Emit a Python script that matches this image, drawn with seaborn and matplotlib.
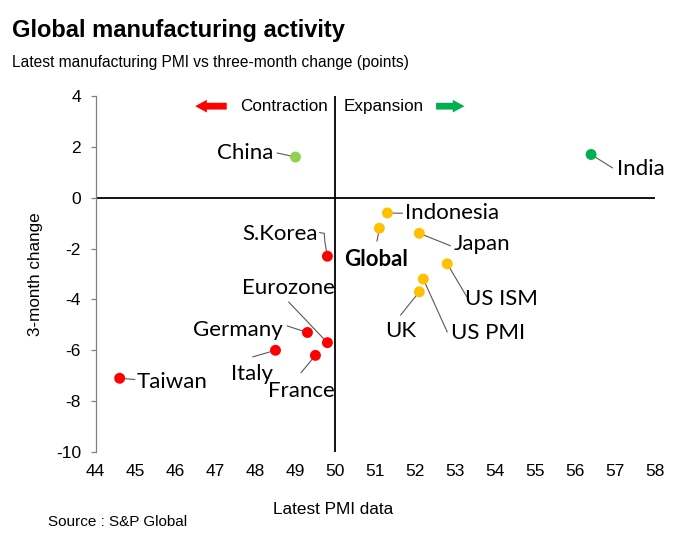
import matplotlib
matplotlib.use("Agg")
import matplotlib.pyplot as plt
import seaborn as sns
import pandas as pd

# ---- data ----
countries = ["China", "India", "Indonesia", "Global", "Japan", "US ISM", "US PMI", "UK",
             "S.Korea", "Eurozone", "Germany", "Italy", "France", "Taiwan"]
pmi = [49.0, 56.4, 51.3, 51.1, 52.1, 52.8, 52.2, 52.1, 49.8, 49.8, 49.3, 48.5, 49.5, 44.6]
change = [1.6, 1.7, -0.6, -1.2, -1.4, -2.6, -3.2, -3.7, -2.3, -5.7, -5.3, -6.0, -6.2, -7.1]
group = ["china", "india", "exp", "exp", "exp", "exp", "exp", "exp",
         "con", "con", "con", "con", "con", "con"]
x_ticks = list(range(44, 59))
y_ticks = list(range(-10, 5, 2))

palette = {"china": "#92D050", "india": "#00B050", "exp": "#FFC000", "con": "#FF0000"}

# label layout: text centre, leader-line path start (data coords)
label_layout = {
    "China":     ((47.74, 1.76), [(48.54, 1.76)]),
    "India":     ((57.64, 1.13), [(56.94, 1.17)]),
    "Indonesia": ((52.93, -0.61), [(51.68, -0.61)]),
    "Global":    ((51.03, -2.43), [(51.04, -1.71)]),
    "Japan":     ((53.68, -1.83), [(52.88, -1.89)]),
    "US ISM":    ((54.16, -3.97), [(53.34, -4.03)]),
    "US PMI":    ((53.81, -5.33), [(52.80, -5.28)]),
    "UK":        ((51.63, -5.25), [(51.63, -4.62)]),
    "S.Korea":   ((48.62, -1.43), [(49.60, -1.37), (49.72, -1.40), (49.74, -1.78)]),
    "Eurozone":  ((48.83, -3.57), [(48.83, -4.10)]),
    "Germany":   ((47.57, -5.19), [(48.79, -5.04)]),
    "Italy":     ((47.91, -6.94), [(47.93, -6.26)]),
    "France":    ((49.14, -7.60), [(49.14, -6.88)]),
    "Taiwan":    ((45.90, -7.25), [(44.98, -7.15)]),
}

df = pd.DataFrame({"country": countries, "pmi": pmi, "change": change, "group": group})

sns.set_style("white")
plt.rcParams["font.family"] = ["Liberation Sans", "DejaVu Sans"]
plt.rcParams["axes.unicode_minus"] = False
plt.rcParams["text.color"] = "black"
plt.rcParams["axes.labelcolor"] = "black"
plt.rcParams["xtick.color"] = "black"
plt.rcParams["ytick.color"] = "black"

fig = plt.figure(figsize=(6.8, 5.4), dpi=100)
ax = fig.add_axes([95.7 / 680, 1 - 452 / 540, (655 - 95.7) / 680, (452 - 96) / 540])

sns.scatterplot(data=df, x="pmi", y="change", hue="group", palette=palette,
                s=62, edgecolor="none", linewidth=0, legend=False, ax=ax, zorder=4)

ax.set_xlim(44, 58)
ax.set_ylim(-10, 4)
ax.set_xticks(x_ticks)
ax.set_yticks(y_ticks)
ax.axhline(0, color="black", lw=1.3, zorder=2)
ax.axvline(50, color="black", lw=1.3, zorder=2)

for s in ["top", "right", "bottom"]:
    ax.spines[s].set_visible(False)
ax.spines["left"].set_color("#808080")
ax.spines["left"].set_linewidth(0.9)
ax.tick_params(axis="x", length=0, pad=9, labelsize=12.5)
ax.tick_params(axis="y", length=3.6, width=0.9, color="#808080", labelcolor="black",
               direction="out", pad=7, labelsize=12.5, left=True)

ax.set_xlabel("Latest PMI data", fontsize=12.3)
ax.xaxis.set_label_coords((333 - 95.7) / (655 - 95.7), -(509 - 452) / (452 - 96))
ax.xaxis.label.set_va("center")
ax.set_ylabel("3-month change", fontsize=12.3, labelpad=9)

for name, px, py in zip(countries, pmi, change):
    (tx, ty), path = label_layout[name]
    xs = [p[0] for p in path] + [px]
    ys = [p[1] for p in path] + [py]
    ax.plot(xs, ys, color="#595959", lw=0.8, zorder=3)
    ax.text(tx, ty, name, ha="center", va="center", fontsize=16,
            family=["Lato", "DejaVu Sans"],
            fontweight="bold" if name == "Global" else "normal", zorder=5)

# contraction / expansion
ax.text(49.8, 3.6, "Contraction", ha="right", va="center", fontsize=12.3)
ax.text(50.2, 3.6, "Expansion", ha="left", va="center", fontsize=12.3)
ax.annotate("", xy=(46.42, 3.6), xytext=(47.35, 3.6),
            arrowprops=dict(arrowstyle="simple,head_length=0.6,head_width=0.65,tail_width=0.35",
                            color="#FF0000", lw=0, mutation_scale=14))
ax.annotate("", xy=(53.3, 3.6), xytext=(52.45, 3.6),
            arrowprops=dict(arrowstyle="simple,head_length=0.6,head_width=0.65,tail_width=0.35",
                            color="#00B050", lw=0, mutation_scale=14))

fig.text(12 / 680, 1 - 30 / 540, "Global manufacturing activity", fontsize=17,
         fontweight="bold", ha="left", va="center")
fig.text(12 / 680, 1 - 63 / 540, "Latest manufacturing PMI vs three-month change (points)",
         fontsize=11.2, ha="left", va="center")
fig.text(48 / 680, 1 - 522 / 540, "Source : S&P Global", fontsize=11, ha="left", va="center")

fig.savefig("out.png", dpi=100)
